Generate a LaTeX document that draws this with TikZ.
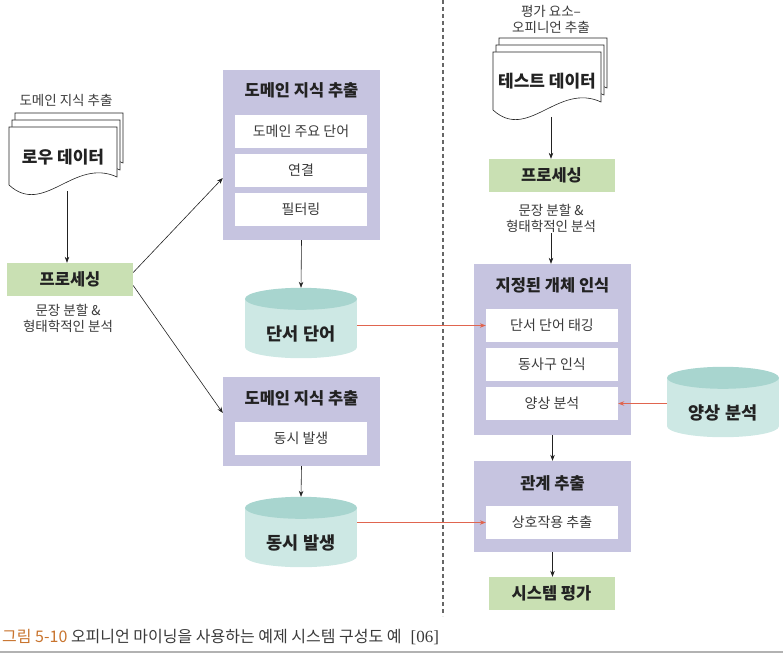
\documentclass[tikz,border=0pt]{standalone}
\usepackage{fontspec}
\setmainfont{Noto Sans CJK KR}
\newfontfamily\citefont{Liberation Serif}
\usetikzlibrary{arrows.meta,backgrounds}

\definecolor{procgreen}{HTML}{C9E0B3}
\definecolor{panelpurple}{HTML}{C6C4E0}
\definecolor{cylbody}{HTML}{CDE8E4}
\definecolor{cyltop}{HTML}{A8D5CF}
\definecolor{linkred}{HTML}{E0654F}
\definecolor{inkgray}{HTML}{222222}
\definecolor{notegray}{HTML}{3A3A3A}
\definecolor{capbrown}{HTML}{C8742E}

\tikzset{
  flow/.style={-{Stealth[length=6pt,width=4.5pt]}, inkgray, line width=0.6pt},
  link/.style={-{Stealth[length=6pt,width=4.5pt]}, linkred, line width=0.6pt},
  divider/.style={dashed, dash pattern=on 4pt off 3pt, gray!80!black, line width=1.1pt},
  docpage/.style={draw=inkgray, fill=white, line width=0.6pt},
  doctext/.style={font=\fontsize{17pt}{20pt}\selectfont\bfseries, text=inkgray},
  note/.style={font=\fontsize{13.5pt}{16pt}\selectfont, text=notegray, align=center, inner sep=1pt},
  procbox/.style={fill=procgreen, minimum width=126pt, minimum height=33pt, inner sep=0pt,
    font=\fontsize{16.5pt}{19pt}\selectfont\bfseries, text=inkgray},
  panel/.style={fill=panelpurple, minimum width=157pt, inner sep=0pt},
  paneltitle/.style={font=\fontsize{16.5pt}{19pt}\selectfont\bfseries, text=inkgray, inner sep=1pt},
  item/.style={fill=white, minimum width=132pt, minimum height=33pt, inner sep=0pt,
    font=\fontsize{14pt}{17pt}\selectfont, text=notegray},
  cylbox/.style={minimum width=112pt, minimum height=48pt, inner sep=0pt,
    font=\fontsize{17.5pt}{20pt}\selectfont\bfseries, text=inkgray}
}

\begin{document}
\begin{tikzpicture}[x=1pt,y=-1pt]
  \useasboundingbox (0,0) rectangle (783,655);

  % training / test split
  \draw[divider] (443,0) -- (443,616);

  % raw data
  \node[note] (rawlabel) at (66,100) {도메인 지식 추출};
  \foreach \dx/\dy in {6/-14,3/-7,0/0}
    \draw[docpage,shift={(9,127)},shift={(\dx,\dy)}]
      (0,0) -- (0,58) .. controls (35,90) and (65,30) .. (108,50) -- (108,0) -- cycle;
  \node[doctext] (rawdata) at (63,157) {로우 데이터};
  \coordinate (rawbot) at (67,191);

  \node[procbox] (procL) at (70,279.5) {프로세싱};
  \node[note] (procLnote) at (68,318) {문장 분할 \&\\형태학적인 분석};
  \draw[flow] (rawbot) -- (rawbot |- procL.north);

  % domain knowledge (1)
  \node[panel, minimum height=170pt] (dke1) at (301.5,155) {};
  \node[paneltitle] (dke1title) at (301.5,90) {도메인 지식 추출};
  \node[item] (keyword) at (301,131.5) {도메인 주요 단어};
  \node[item] (linking) at (301,170.5) {연결};
  \node[item] (filtering) at (301,209.5) {필터링};

  % domain knowledge (2)
  \node[panel, minimum height=89pt] (dke2) at (301.5,421.5) {};
  \node[paneltitle] (dke2title) at (301.5,398) {도메인 지식 추출};
  \node[item] (cooc) at (301,438.5) {동시 발생};

  % databases
  \node[cylbox] (tagdb) at (301,334) {단서 단어};
  \node[cylbox] (coocdb) at (301,543) {동시 발생};
  \node[cylbox] (moddb) at (723,413) {양상 분석};
  \begin{scope}[on background layer]
    \foreach \c in {tagdb,coocdb,moddb}{
      \fill[cylbody] ([yshift=11pt]\c.north west) rectangle ([yshift=11pt]\c.south east);
      \fill[cylbody] ([yshift=11pt]\c.south) ellipse [x radius=56pt, y radius=11pt];
      \fill[cyltop] ([yshift=11pt]\c.north) ellipse [x radius=56pt, y radius=11pt];
    }
  \end{scope}

  \draw[flow] ([yshift=7pt]procL.east) -- ([yshift=-23pt]dke1.west);
  \draw[flow] ([yshift=-6pt]procL.east) -- ([yshift=8.5pt]dke2.west);
  \draw[flow] (dke1.south) -- ([yshift=22pt]tagdb.north);
  \draw[flow] (dke2.south) -- ([yshift=22pt]coocdb.north);

  % test data
  \node[note] (evallabel) at (551,19) {평가 요소–\\오피니언 추출};
  \foreach \dx/\dy in {6/-14,3/-7,0/0}
    \draw[docpage,shift={(493,52)},shift={(\dx,\dy)}]
      (0,0) -- (0,58) .. controls (35,90) and (65,30) .. (108,50) -- (108,0) -- cycle;
  \node[doctext] (testdata) at (547,81) {테스트 데이터};
  \coordinate (testbot) at (551,117);

  \node[procbox] (procR) at (551.5,175.5) {프로세싱};
  \node[note] (procRnote) at (551,218) {문장 분할 \&\\형태학적인 분석};
  \draw[flow] (testbot) -- (testbot |- procR.north);

  % named entity recognition
  \node[panel, minimum height=171pt] (ner) at (552.5,349.5) {};
  \node[paneltitle] (nertitle) at (552.5,285) {지정된 개체 인식};
  \node[item] (ttag) at (552,325.5) {단서 단어 태깅};
  \node[item] (vphrase) at (552,364) {동사구 인식};
  \node[item] (modbox) at (552,403.5) {양상 분석};

  % relation extraction
  \node[panel, minimum height=91pt] (relx) at (552.5,506.5) {};
  \node[paneltitle] (relxtitle) at (552.5,483) {관계 추출};
  \node[item] (inter) at (552,522.5) {상호작용 추출};

  \node[procbox] (evalsys) at (551.5,593.5) {시스템 평가};

  \draw[flow] (procRnote.south) -- (procRnote.south |- ner.north);
  \draw[flow] (ner.south) -- (relx.north);
  \draw[flow] (relx.south) -- (relx.south |- evalsys.north);

  % red links
  \draw[link] (tagdb.east |- ttag) -- (ttag);
  \draw[link] (coocdb.east |- inter) -- (inter);
  \draw[link] (moddb.west |- modbox) -- (modbox);

  % caption
  \node[anchor=west, inner sep=0pt, font=\fontsize{16pt}{19pt}\selectfont, text=notegray] (caption) at (2,637)
    {\textcolor{capbrown}{그림 5-10} 오피니언 마이닝을 사용하는 예제 시스템 구성도 예\hspace{9pt}{\citefont\fontsize{17pt}{19pt}\selectfont [06]}};
  \draw[gray!60, line width=1.5pt] (0,652) -- (783,652);
\end{tikzpicture}
\end{document}
